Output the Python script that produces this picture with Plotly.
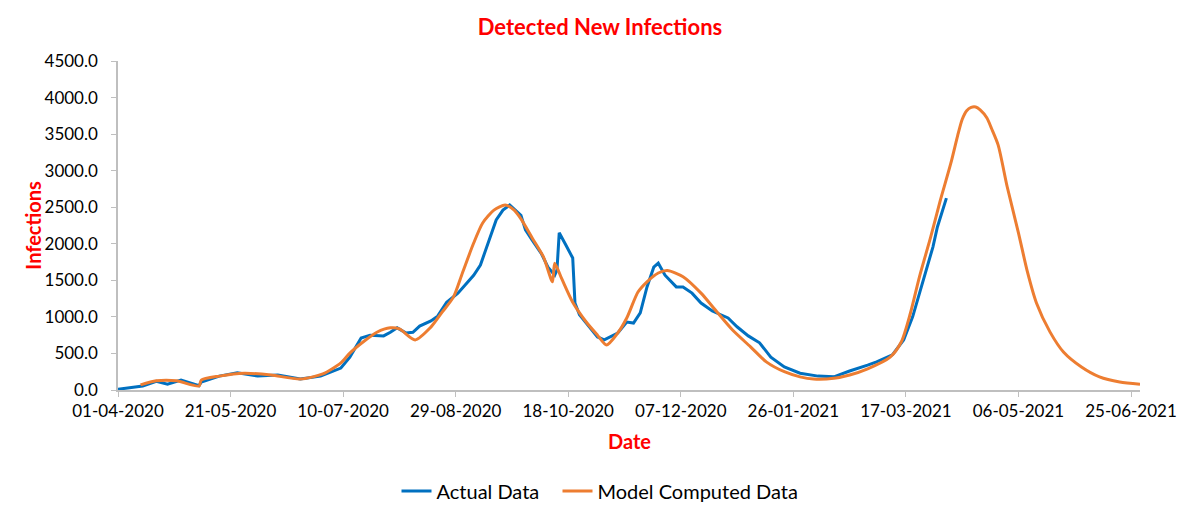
import pandas as pd
import plotly.graph_objects as go

start_date = "2020-04-01"

# Actual data: day offset from 01-04-2020 and detected new infections
actual_days = [0, 11, 17, 22, 28, 32, 36, 37, 45, 53, 62, 71, 81, 90, 99, 103, 108, 112,
               118, 121, 124, 128, 131, 134, 139, 142, 146, 151, 155, 158, 161, 164, 168,
               171, 174, 179, 181, 184, 188, 191, 193, 194, 195, 196, 199, 202, 203, 205,
               208, 213, 216, 222, 226, 229, 232, 235, 238, 240, 243, 248, 251, 255, 259,
               264, 271, 275, 280, 285, 290, 296, 303, 311, 318, 325, 333, 337, 344, 349,
               353, 358, 362, 364, 368]
actual_vals = [10, 55, 120, 80, 135, 100, 60, 110, 190, 235, 190, 205, 150, 190, 300, 450, 710, 750,
               740, 790, 850, 780, 790, 875, 945, 1010, 1200, 1325, 1460, 1570, 1710, 1980, 2325,
               2460, 2530, 2390, 2190, 2050, 1870, 1680, 1610, 1570, 1640, 2150, 1980, 1805, 1190, 1030,
               915, 725, 685, 780, 930, 915, 1055, 1410, 1680, 1735, 1570, 1410, 1410, 1325, 1190,
               1080, 985, 865, 740, 645, 450, 315, 230, 190, 180, 260, 340, 385, 480, 685,
               1000, 1545, 1955, 2230, 2625]

# Model computed data
model_days = [10, 17, 26, 36, 37, 45, 56, 68, 81, 91, 99, 103, 109, 115, 121, 125, 132, 139,
              144, 149, 153, 158, 162, 167, 172, 176, 179, 184, 189, 193, 194, 197, 202, 208,
              213, 217, 222, 226, 231, 235, 240, 244, 251, 259, 266, 273, 281, 288, 296, 303,
              309, 318, 325, 333, 343, 348, 352, 356, 361, 365, 370, 373, 375, 377, 379,
              381, 383, 386, 388, 391, 395, 400, 404, 408, 414, 420, 428, 436, 445, 454]
model_vals = [70, 125, 125, 55, 135, 190, 230, 205, 150, 220, 370, 505, 660, 790, 850, 835, 685, 860,
              1065, 1270, 1600, 2010, 2285, 2460, 2530, 2460, 2340, 2080, 1820, 1480, 1735, 1530, 1200, 930,
              750, 615, 780, 985, 1340, 1480, 1600, 1635, 1550, 1325, 1070, 820, 590, 385, 250, 180,
              150, 160, 205, 290, 450, 660, 1050, 1545, 2090, 2560, 3105, 3480, 3700, 3820, 3865,
              3870, 3830, 3720, 3580, 3350, 2780, 2150, 1615, 1190, 795, 520, 315, 180, 110, 80]

tick_days = [0, 50, 100, 150, 200, 250, 300, 350, 400, 450]
y_ticks = [0, 500, 1000, 1500, 2000, 2500, 3000, 3500, 4000, 4500]

base = pd.Timestamp(start_date)
to_dates = lambda days: [base + pd.Timedelta(days=d) for d in days]

fig = go.Figure()
fig.add_trace(go.Scatter(x=to_dates(actual_days), y=actual_vals, mode="lines",
                         name="Actual Data", legendwidth=116,
                         line=dict(color="#0070C0", width=3)))
fig.add_trace(go.Scatter(x=to_dates(model_days), y=model_vals, mode="lines",
                         name="Model Computed Data",
                         line=dict(color="#ED7D31", width=3, shape="spline", smoothing=0.7)))

font_family = "Lato, Open Sans, sans-serif"
fig.update_layout(
    width=1200, height=516,
    paper_bgcolor="white", plot_bgcolor="white",
    margin=dict(l=118, r=60, t=61, b=126, autoexpand=False),
    font=dict(family=font_family, size=17, color="#000000"),
    title=dict(text="<b>Detected New Infections</b>", x=0.5, xanchor="center",
               y=0.948, yanchor="middle", font=dict(size=22, color="#FF0000")),
    legend=dict(orientation="h", xref="container", x=0.5, xanchor="center",
                y=-0.307, yanchor="middle",
                font=dict(size=20), itemwidth=30),
    showlegend=True,
    annotations=[
        dict(text="<b>Date</b>", xref="paper", yref="paper", x=0.5, y=-0.155,
             xanchor="center", yanchor="middle", showarrow=False,
             font=dict(size=20, color="#FF0000")),
        dict(text="<b>Infections</b>", xref="paper", yref="paper", x=-0.084, y=0.5,
             xanchor="center", yanchor="middle", showarrow=False, textangle=-90,
             font=dict(size=20, color="#FF0000")),
    ],
)
fig.update_xaxes(
    type="date", automargin=False,
    range=[base, base + pd.Timedelta(days=454)],
    tickvals=to_dates(tick_days), tickformat="%d-%m-%Y",
    showline=True, linecolor="#BFBFBF", linewidth=1.5,
    ticks="outside", tickcolor="#BFBFBF", ticklen=5,
    showgrid=False, zeroline=False,
)
fig.update_yaxes(
    range=[0, 4500], tickvals=y_ticks, tickformat=".1f", automargin=False,
    showline=True, linecolor="#BFBFBF", linewidth=1.5,
    ticks="outside", tickcolor="#BFBFBF", ticklen=5, ticklabelstandoff=10,
    showgrid=False, zeroline=False,
)

fig.write_html("out.html", config={"displayModeBar": False},
               post_script="document.body.style.margin='0';")
